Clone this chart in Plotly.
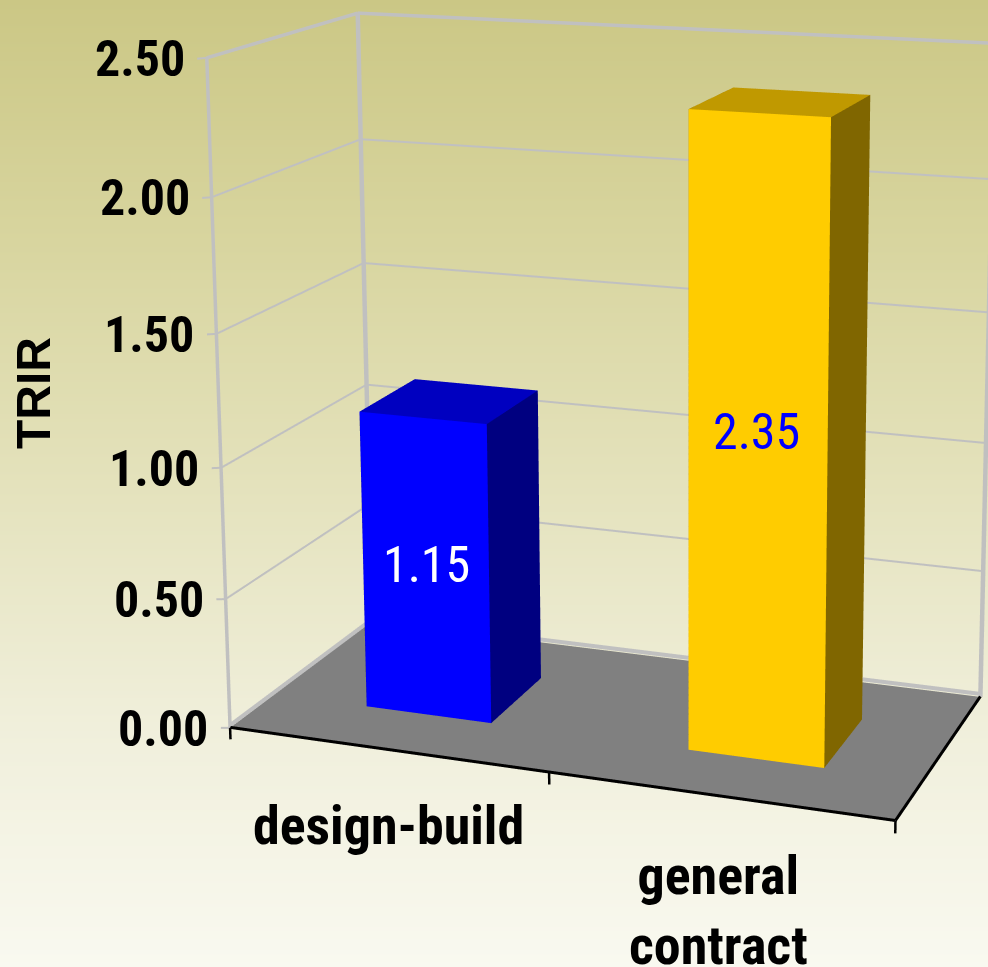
import plotly.graph_objects as go

categories = ["design-build", "general<br>contract"]
values = [1.15, 2.35]
value_labels = ["1.15", "2.35"]
z_ticks = [0, 0.5, 1, 1.5, 2, 2.5]
z_tick_labels = ["0.00", "0.50", "1.00", "1.50", "2.00", "2.50"]
axis_title = "TRIR"

# Plotly's perspective has a fixed 45 degree field of view, so the long lens of
# the reference needs a scene larger than the window, offset inside the page.
FIG_W, FIG_H = 1286, 2414
TOP = 973

BAR_X = [(0.302, 0.703), (1.313, 1.716)]
BAR_Y = (0.297, 0.698)

# plot box (x 0..2, y 0..1, z 0..2.5) with its world scale, and the ranges that
# leave room around it for the tick marks
SCALE = (0.5, 0.485, 0.985 / 2.5)
BOX_MID = (1.0, 0.5, 1.25)
X_RANGE = [-0.1, 2.02]
Y_RANGE = [-0.02, 1.02]
Z_RANGE = [-0.15, 2.52]
RANGES = (X_RANGE, Y_RANGE, Z_RANGE)
ASPECT = dict(zip("xyz", [(r[1] - r[0]) * s for r, s in zip(RANGES, SCALE)]))
SHIFT = [(m - (r[0] + r[1]) / 2) * s for m, r, s in zip(BOX_MID, RANGES, SCALE)]
EYE = dict(zip("xyz", [v + d for v, d in zip((1.435, -3.795, 1.095), SHIFT)]))
CENTER = dict(zip("xyz", [v + d for v, d in zip((-0.003, 0.157, 0.197), SHIFT)]))
UP = dict(x=0.005, y=-0.007, z=0.721)

SILVER = "#C0C0C0"
BAR_COL = [dict(front="#0000FF", side="#000080", top="#0000C0"),
           dict(front="#FFCC00", side="#806600", top="#C09900")]
FLAT = dict(ambient=1, diffuse=0, specular=0, fresnel=0, roughness=1)
NARROW = "Roboto Condensed"

fig = go.Figure()

# page gradient
bg_y = [0, 242, 484, 725, 967]
bg_stops = ["#CBC785", "#D8D59F", "#E4E2BC", "#F0EFDB", "#F9F9F0"]
fig.add_trace(go.Heatmap(x=[0, FIG_W], y=bg_y, z=[[i, i] for i in range(len(bg_y))], zsmooth="best",
                         showscale=False, hoverinfo="skip",
                         colorscale=[[i / (len(bg_stops) - 1), c] for i, c in enumerate(bg_stops)]))

def line(x, y, z, color=SILVER, width=4):
    fig.add_trace(go.Scatter3d(x=x, y=y, z=z, mode="lines", line=dict(color=color, width=width),
                               hoverinfo="skip", showlegend=False))

# floor
fig.add_trace(go.Mesh3d(x=[0, 2, 2, 0], y=[0, 0, 1, 1], z=[0, 0, 0, 0], i=[0, 0], j=[1, 2], k=[2, 3],
                        color="#808080", flatshading=True, lighting=FLAT, hoverinfo="skip"))

# wall gridlines and frame
for t in z_ticks[1:]:
    w = 7 if t == z_ticks[-1] else 4
    line([0, 0], [0, 1], [t, t], width=w)
    line([0, 2], [1, 1], [t, t], width=w)
for t in z_ticks:
    line([-0.03, 0], [0, 0], [t - 0.005, t], width=4)
line([0, 0], [0, 0], [0, 2.5], width=7)
line([0, 0], [1, 1], [0, 2.5], width=9)
line([2, 2], [1, 1], [0, 2.5], width=9)
line([0, 0], [0, 1], [0.01, 0.01], width=8)
line([0, 2], [1, 1], [0.012, 0.012], width=8)

# axis lines and category ticks
line([0, 2], [0, 0], [0.002, 0.002], color="black", width=6)
line([2, 2], [0, 1], [0.002, 0.002], color="black", width=6)
for t in [0, 1, 2]:
    line([t, t], [0, 0], [-0.045, 0], color="black", width=5)

# bars
tri_i = [0, 0, 4, 4, 0, 0, 1, 1, 0, 0, 3, 3]
tri_j = [1, 2, 5, 6, 1, 5, 2, 6, 3, 7, 2, 6]
tri_k = [2, 3, 6, 7, 5, 4, 6, 5, 7, 4, 6, 7]
for b, v in enumerate(values):
    x0, x1 = BAR_X[b]
    y0, y1 = BAR_Y
    c = BAR_COL[b]
    fig.add_trace(go.Mesh3d(x=[x0, x1, x1, x0, x0, x1, x1, x0], y=[y0, y0, y1, y1, y0, y0, y1, y1],
                            z=[0, 0, 0, 0, v, v, v, v], i=tri_i, j=tri_j, k=tri_k,
                            facecolor=[c["side"]] * 2 + [c["top"]] * 2 + [c["front"]] * 2 + [c["side"]] * 6,
                            flatshading=True, lighting=FLAT, hoverinfo="skip"))

anns = []
tick_font = dict(family=NARROW, size=50, color="black", weight="bold")
cat_font = dict(family=NARROW, size=54, color="black", weight="bold")
for t, l in zip(z_ticks, z_tick_labels):
    anns.append(dict(x=0, y=0, z=t, text=l, showarrow=False, xanchor="right", yanchor="middle", xshift=-20, yshift=-1, font=tick_font))
cat_shift = [(2, -76), (0, -114)]
for i, cat in enumerate(categories):
    anns.append(dict(x=i + 0.5, y=0, z=0, text=cat, showarrow=False, xanchor="center", yanchor="middle",
                     xshift=cat_shift[i][0], yshift=cat_shift[i][1], font=cat_font))
val_col = ["white", "#0000FF"]
val_shift = [(1, 3), (-1, 12)]
for b, v in enumerate(values):
    anns.append(dict(x=sum(BAR_X[b]) / 2, y=BAR_Y[0], z=v / 2, text=value_labels[b], showarrow=False,
                     xanchor="center", yanchor="middle", xshift=val_shift[b][0], yshift=val_shift[b][1],
                     font=dict(family=NARROW, size=50, color=val_col[b])))

off = dict(visible=False, showgrid=False, zeroline=False, showspikes=False, showbackground=False)
fig.update_layout(
    width=FIG_W, height=FIG_H, margin=dict(l=0, r=0, t=0, b=0), paper_bgcolor="#F0EFDB", showlegend=False,
    xaxis=dict(visible=False, range=[0, FIG_W]),
    yaxis=dict(visible=False, range=[FIG_H - TOP, -TOP]),
    scene=dict(domain=dict(x=[0, 1], y=[0, 1]), bgcolor="rgba(0,0,0,0)", dragmode="orbit",
               aspectmode="manual", aspectratio=ASPECT,
               camera=dict(eye=EYE, center=CENTER, up=UP, projection=dict(type="perspective")),
               xaxis=dict(range=X_RANGE, **off), yaxis=dict(range=Y_RANGE, **off), zaxis=dict(range=Z_RANGE, **off),
               annotations=anns),
    annotations=[dict(xref="paper", yref="paper", x=33 / FIG_W, y=1 - (393 + TOP) / FIG_H, text="<b>" + axis_title + "</b>",
                      textangle=-90, showarrow=False, xanchor="center", yanchor="middle",
                      font=dict(family="Liberation Sans", size=48, color="black"))])

post = ("document.documentElement.style.overflow='hidden';document.body.style.overflow='hidden';"
        "document.body.style.margin='0';var g=document.querySelector('.plotly-graph-div');"
        "g.style.position='absolute';g.style.left='0';g.style.top='-%dpx';" % TOP)
fig.write_html("out.html", post_script=post, config={"displayModeBar": False})
